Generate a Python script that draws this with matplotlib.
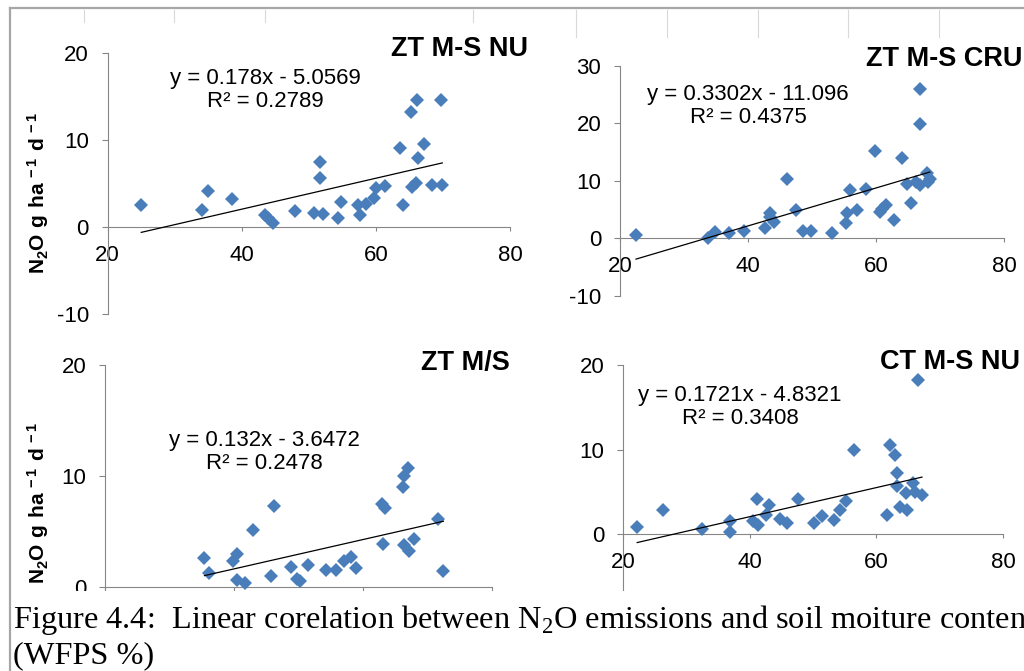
import numpy as np
import matplotlib
matplotlib.use('Agg')
import matplotlib.pyplot as plt
from matplotlib.lines import Line2D
from matplotlib.patches import Rectangle

plt.rcParams['font.family'] = ['Liberation Sans', 'DejaVu Sans']
plt.rcParams['axes.unicode_minus'] = False
plt.rcParams['mathtext.fontset'] = 'custom'
plt.rcParams['mathtext.rm'] = 'Liberation Serif'
plt.rcParams['mathtext.bf'] = 'Liberation Sans:bold'

# ---------- Data (WFPS % vs N2O flux) ----------
titles = ['ZT M-S NU', 'ZT M-S CRU', 'ZT M/S', 'CT M-S NU']

zt_ms_nu_x = [25.0, 34.1, 34.9, 38.6, 43.4, 43.9, 44.6, 48.0, 50.7, 51.6, 51.6, 52.1,
              54.4, 54.8, 57.4, 57.6, 58.5, 59.7, 60.0, 61.3, 63.6, 64.1, 65.3, 65.4,
              66.0, 66.1, 66.3, 67.1, 68.4, 69.7, 69.9]
zt_ms_nu_y = [2.6, 2.0, 4.1, 3.2, 1.4, 1.0, 0.5, 1.9, 1.6, 7.5, 5.6, 1.5,
              1.0, 2.9, 2.5, 1.4, 2.7, 3.4, 4.5, 4.7, 9.1, 2.6, 13.3, 4.6,
              5.1, 14.6, 8.0, 9.6, 4.8, 14.6, 4.8]

zt_ms_cru_x = [22.5, 33.8, 34.9, 37.0, 39.3, 42.7, 43.4, 43.4, 44.0, 46.1, 47.5, 48.6,
               49.8, 53.1, 55.3, 55.5, 56.0, 57.1, 58.5, 59.8, 60.6, 61.0, 61.6, 62.8,
               64.0, 64.9, 65.5, 66.3, 66.9, 66.9, 66.9, 67.9, 68.2, 68.4]
zt_ms_cru_y = [0.5, 0.0, 1.0, 0.8, 1.2, 1.8, 4.4, 3.7, 2.8, 10.2, 4.9, 1.3,
               1.3, 0.8, 2.6, 4.4, 8.4, 4.9, 8.6, 15.2, 4.5, 5.0, 5.7, 3.1,
               14.0, 9.4, 6.1, 9.8, 26.0, 19.8, 9.2, 11.3, 9.8, 10.2]

zt_ms_x = [35.4, 36.1, 39.8, 40.5, 40.5, 41.7, 42.9, 45.7, 46.2, 48.8, 49.7, 50.2,
           51.5, 54.2, 55.8, 57.1, 58.2, 59.0, 63.0, 63.4, 63.1, 66.2, 66.4, 67.0,
           66.4, 67.1, 67.9, 71.7, 72.5]
zt_ms_y = [2.6, 1.3, 2.3, 3.0, 0.6, 0.4, 5.1, 1.0, 7.3, 1.8, 0.7, 0.5,
           2.0, 1.5, 1.5, 2.3, 2.7, 1.7, 7.5, 7.1, 3.9, 9.0, 10.0, 10.7,
           3.8, 3.2, 4.3, 6.1, 1.4]

ct_ms_nu_x = [22.2, 26.2, 32.5, 36.8, 36.8, 40.5, 41.2, 41.3, 42.5, 43.1, 44.7, 45.8,
              47.6, 50.2, 51.4, 53.3, 54.2, 55.2, 56.5, 61.6, 62.2, 62.9, 63.3, 63.2,
              63.7, 64.9, 64.7, 65.8, 66.1, 66.6, 67.2]
ct_ms_nu_y = [0.8, 2.8, 0.6, 1.5, 0.2, 1.5, 4.1, 1.1, 2.2, 3.4, 1.8, 1.3,
              4.1, 1.3, 2.1, 1.7, 2.8, 3.9, 9.9, 2.2, 10.5, 9.4, 7.2, 5.7,
              3.2, 2.8, 4.9, 6.0, 5.0, 18.2, 4.6]

slopes = [0.178, 0.3302, 0.132, 0.1721]
intercepts = [-5.0569, -11.096, -3.6472, -4.8321]
slope_txt = ['0.178', '0.3302', '0.132', '0.1721']
icpt_txt = ['5.0569', '11.096', '3.6472', '4.8321']
r2_txt = ['0.2789', '0.4375', '0.2478', '0.3408']

xs = [zt_ms_nu_x, zt_ms_cru_x, zt_ms_x, ct_ms_nu_x]
ys = [zt_ms_nu_y, zt_ms_cru_y, zt_ms_y, ct_ms_nu_y]
# bottom panels: the -10 tick lies under the caption on the page
yticks = [[-10, 0, 10, 20], [-10, 0, 10, 20, 30], [0, 10, 20], [0, 10, 20]]
ylims = [(-10, 20), (-10, 30), (-10, 20), (-10, 20)]

# ---------- Layout (pixels in a 1024x671 page) ----------
W, H = 1024, 671
# left, right, top(ymax), bottom(ymin) of each plot area
boxes = [(107.7, 510, 53.3, 314), (620, 1004, 65.7, 295.5),
         (105.3, 491.7, 365, 698), (623.3, 1003, 365, 618.5)]
title_pos = [(528, 49), (1022, 59), (510, 363), (1020, 362)]
eq_pos = [(265, 90), (748, 106), (264, 452), (740, 407)]
ylab_pos = [(38, 193), (38, 503)]

AX_GRAY = '#868686'
BLUE = '#4A7EBB'

fig = plt.figure(figsize=(W / 100, H / 100), dpi=100)

for i in range(4):
    l, r, t, b = boxes[i]
    ax = fig.add_axes([l / W, (H - b) / H, (r - l) / W, (b - t) / H])
    ax.set_xlim(20, 80)
    ax.set_ylim(*ylims[i])
    ax.set_facecolor('none')
    for s in ['top', 'right']:
        ax.spines[s].set_visible(False)
    ax.spines['left'].set_color(AX_GRAY)
    ax.spines['bottom'].set_color(AX_GRAY)
    ax.spines['bottom'].set_position(('data', 0))
    ax.spines['left'].set_linewidth(0.8)
    ax.spines['bottom'].set_linewidth(0.8)
    ax.set_xticks([20, 40, 60, 80])
    ax.set_yticks(yticks[i])
    ax.tick_params(axis='y', direction='out', length=4.5, width=0.8, color=AX_GRAY,
                   labelsize=16, pad=9)
    ax.tick_params(axis='x', direction='out', length=3, width=0.8, color=AX_GRAY,
                   labelsize=16, pad=10)
    if i == 2:
        # x labels of this panel sit under the caption on the page
        ax.tick_params(axis='x', labelbottom=False)

    ax.plot(xs[i], ys[i], linestyle='none', marker='D', markersize=7.2,
            markerfacecolor=BLUE, markeredgewidth=0, clip_on=False, zorder=3)

    x0, x1 = min(xs[i]), max(xs[i])
    ax.plot([x0, x1], [slopes[i] * x0 + intercepts[i], slopes[i] * x1 + intercepts[i]],
            color='black', linewidth=0.9, zorder=4)

    tx, ty = title_pos[i]
    fig.text(tx / W, 1 - ty / H, titles[i], ha='right', va='center',
             fontsize=19.5, fontweight='bold')
    ex, ey = eq_pos[i]
    fig.text(ex / W, 1 - ey / H,
             'y = %sx - %s\nR\u00b2 = %s' % (slope_txt[i], icpt_txt[i], r2_txt[i]),
             ha='center', va='center', multialignment='center',
             fontsize=16, linespacing=1.1)

for lx, ly in ylab_pos:
    fig.text(lx / W, 1 - ly / H, r'$\mathbf{N_2O\ g\ ha^{\,-1}\ d^{\,-1}}$',
             rotation=90, ha='center', va='center', fontsize=15)

# ---------- Page decoration and caption ----------
fig.patches.append(Rectangle((11 / W, 0), 1, (H - 591) / H, transform=fig.transFigure,
                             facecolor='white', edgecolor='none', zorder=10))
for gx in [84, 174, 265, 473]:
    fig.add_artist(Line2D([gx / W] * 2, [1 - 10 / H, 1 - 22 / H], color='#d9d9d9', lw=0.8))
for gx in [576, 667, 758, 848, 939]:
    fig.add_artist(Line2D([gx / W] * 2, [1 - 10 / H, 1 - 37 / H], color='#d9d9d9', lw=0.8))
fig.add_artist(Line2D([10 / W, 1], [1 - 8 / H] * 2, color='#a6a6a6', lw=1.6, zorder=12))
fig.add_artist(Line2D([10 / W] * 2, [0, 1 - 8 / H], color='#a6a6a6', lw=1.6, zorder=12))

fig.text(13 / W, 1 - 628 / H,
         'Figure 4.4:  Linear corelation between N$_2$O emissions and soil moiture content',
         family='Liberation Serif', fontsize=23.3, ha='left', va='baseline', zorder=11)
fig.text(13 / W, 1 - 663 / H, '(WFPS %)',
         family='Liberation Serif', fontsize=23.3, ha='left', va='baseline', zorder=11)

fig.savefig('out.png', dpi=100)
